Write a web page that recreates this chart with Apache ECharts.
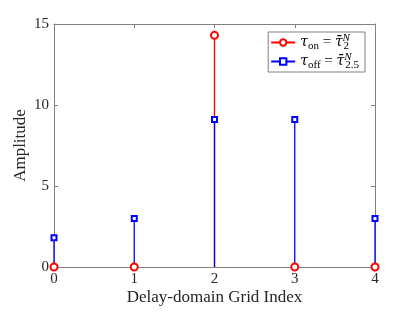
<!DOCTYPE html>
<html><head><meta charset="utf-8">
<script src="https://cdn.jsdelivr.net/npm/echarts@6/dist/echarts.min.js"></script>
<style>html,body{margin:0;padding:0;background:#fff}#c{width:415px;height:313px}</style>
</head><body><div id="c"></div>
<script>
const gridIndex = [0, 1, 2, 3, 4];
const tauOn = [0, 0, 14.3, 0, 0];
const tauOff = [1.8, 3.0, 9.1, 9.1, 3.0];
const yTicks = [0, 5, 10, 15];

function stems(vals) {
  const d = [];
  gridIndex.forEach((x, i) => {
    d.push({ value: [x, 0], symbolSize: 0 });
    d.push({ value: [x, vals[i]] });
    d.push({ value: [x, '-'] });
  });
  return d;
}
const F = '"Liberation Serif", "Times New Roman", serif';
const FT = '"DejaVu Serif", serif';
const axCol = '#808080';
const chart = echarts.init(document.getElementById('c'));
const rich = {
  t: { fontFamily: FT, fontSize: 14, fontStyle: 'italic', color: '#000', lineHeight: 19, verticalAlign: 'middle' },
  s: { fontFamily: F, fontSize: 11, color: '#000', lineHeight: 19, verticalAlign: 'bottom' },
  e: { fontFamily: F, fontSize: 15, color: '#000', lineHeight: 19, verticalAlign: 'middle' },
  p: { fontFamily: F, fontSize: 11, fontStyle: 'italic', color: '#000', lineHeight: 19, verticalAlign: 'top', width: 1 }
};
chart.setOption({
  animation: false,
  grid: { left: 54, right: 40, top: 24, bottom: 46, containLabel: false, outerBoundsMode: 'none' },
  legend: {
    right: 50, top: 32, orient: 'vertical',
    backgroundColor: '#fff', borderColor: '#808080', borderWidth: 1,
    padding: [1, 6, 1, 2], itemGap: 0, itemWidth: 24, itemHeight: 8,
    data: ['on', 'off'],
    formatter: function (n) {
      if (n === 'on') return '{t|τ}{s|on}{e| = }{t|τ̄}{p|N}{s|2}';
      return '{t|τ}{s|off}{e| = }{t|τ̄}{p|N}{s|2.5}';
    },
    textStyle: { rich: rich }
  },
  xAxis: [{
    type: 'value', min: 0, max: 4, interval: 1,
    name: 'Delay-domain Grid Index', nameLocation: 'middle', nameGap: 22, nameMoveOverlap: false,
    nameTextStyle: { fontFamily: F, fontSize: 17, color: '#262626' },
    axisLine: { onZero: false, lineStyle: { color: axCol } },
    axisTick: { inside: true, length: 4, lineStyle: { color: axCol } },
    axisLabel: { fontFamily: F, fontSize: 15, color: '#262626', margin: 5 },
    splitLine: { show: false }
  }, {
    type: 'value', min: 0, max: 4, interval: 1, position: 'top',
    axisLine: { show: true, onZero: false, lineStyle: { color: axCol } },
    axisTick: { inside: true, length: 4, lineStyle: { color: axCol } },
    axisLabel: { show: false }, splitLine: { show: false }
  }],
  yAxis: [{
    type: 'value', min: 0, max: 15, interval: 5,
    name: 'Amplitude', nameLocation: 'middle', nameGap: 25, nameMoveOverlap: false,
    nameTextStyle: { fontFamily: F, fontSize: 17, color: '#262626' },
    axisLine: { show: true, onZero: false, lineStyle: { color: axCol } },
    axisTick: { show: true, inside: true, length: 4, lineStyle: { color: axCol } },
    axisLabel: { fontFamily: F, fontSize: 15, color: '#262626', margin: 5,
      formatter: v => yTicks.includes(v) ? String(v) : '' },
    splitLine: { show: false }
  }, {
    type: 'value', min: 0, max: 15, interval: 5, position: 'right',
    axisLine: { show: true, onZero: false, lineStyle: { color: axCol } },
    axisTick: { show: true, inside: true, length: 4, lineStyle: { color: axCol } },
    axisLabel: { show: false }, splitLine: { show: false }
  }],
  series: [{
    name: 'on', type: 'line', data: stems(tauOn), connectNulls: false,
    symbol: 'emptyCircle', symbolSize: 7,
    lineStyle: { color: '#ff0000', width: 1.3 },
    itemStyle: { color: '#ff0000', borderWidth: 1.3 }
  }, {
    name: 'off', type: 'line', data: stems(tauOff), connectNulls: false,
    symbol: 'emptyRect', symbolSize: 5,
    lineStyle: { color: '#0000ff', width: 1.3 },
    itemStyle: { color: '#0000ff', borderWidth: 1.3 }
  }]
});
</script></body></html>
